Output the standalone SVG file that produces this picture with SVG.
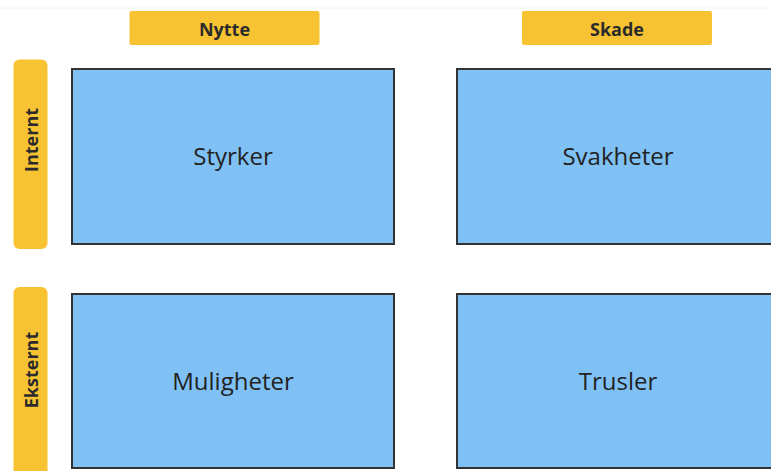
<svg xmlns="http://www.w3.org/2000/svg" width="771" height="471" viewBox="0 0 771 471">
  <style>
    .hdr { fill: #f8c332; }
    .hdr-text { font-family: "Open Sans", "Noto Sans", sans-serif; font-weight: bold; font-size: 18px; fill: #2b2b2b; text-anchor: middle; dominant-baseline: central; }
    .cell { fill: #80c1f5; stroke: #333333; stroke-width: 2; }
    .cell-text { font-family: "Open Sans", "Noto Sans", sans-serif; font-size: 24px; fill: #222222; text-anchor: middle; dominant-baseline: central; }
  </style>
  <rect x="0" y="0" width="771" height="471" fill="#ffffff"/>
  <line x1="0" y1="8" x2="771" y2="8" stroke="#f4f4f4" stroke-width="1"/>

  <!-- column headers -->
  <g id="hdr-nytte">
    <rect class="hdr" x="129.5" y="11" width="190" height="34" rx="2"/>
    <text class="hdr-text" x="224.5" y="29">Nytte</text>
  </g>
  <g id="hdr-skade">
    <rect class="hdr" x="522" y="11" width="190" height="34" rx="2"/>
    <text class="hdr-text" x="617" y="29">Skade</text>
  </g>

  <!-- row headers -->
  <g id="hdr-internt">
    <rect class="hdr" x="13.5" y="59.5" width="34" height="189.5" rx="6"/>
    <text class="hdr-text" transform="translate(31 140) rotate(-90)">Internt</text>
  </g>
  <g id="hdr-eksternt">
    <rect class="hdr" x="13.5" y="287" width="34" height="200" rx="6"/>
    <text class="hdr-text" transform="translate(31 370) rotate(-90)">Eksternt</text>
  </g>

  <!-- quadrants -->
  <g id="styrker">
    <rect class="cell" x="72" y="69" width="322" height="175"/>
    <text class="cell-text" x="233" y="155">Styrker</text>
  </g>
  <g id="svakheter">
    <rect class="cell" x="457" y="69" width="322" height="175"/>
    <text class="cell-text" x="618" y="155">Svakheter</text>
  </g>
  <g id="muligheter">
    <rect class="cell" x="72" y="294" width="322" height="174"/>
    <text class="cell-text" x="233" y="380.5">Muligheter</text>
  </g>
  <g id="trusler">
    <rect class="cell" x="457" y="294" width="322" height="174"/>
    <text class="cell-text" x="618" y="380.5">Trusler</text>
  </g>

  <g id="connectors"></g>
</svg>
